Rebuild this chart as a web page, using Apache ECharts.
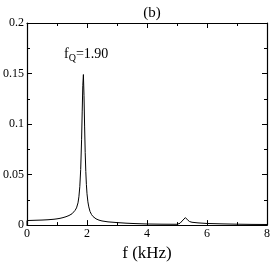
<!DOCTYPE html>
<html><head><meta charset="utf-8">
<script src="https://cdn.jsdelivr.net/npm/echarts@6/dist/echarts.min.js"></script>
<style>html,body{margin:0;padding:0;background:#fff}#c{width:273px;height:267px}</style>
</head><body><div id="c"></div>
<script>
const freq = [0,0.001,0.1,0.3,0.5,0.7,0.9,1.0,1.1,1.2,1.3,1.4,1.5,1.55,1.6,1.65,1.7,1.73,1.76,1.79,1.82,1.84,1.86,1.88,1.90,1.92,1.94,1.96,1.98,2.0,2.03,2.06,2.1,2.15,2.2,2.3,2.4,2.5,2.7,3.0,3.3,3.6,4.0,4.5,5.0,5.1,5.2,5.28,5.35,5.42,5.5,5.7,6.0,6.5,7.0,7.5,8.0];
const amp  = [0,0.0045,0.0046,0.0048,0.005,0.0053,0.0058,0.0062,0.0067,0.0074,0.0083,0.0095,0.0112,0.0125,0.0145,0.017,0.022,0.028,0.038,0.055,0.085,0.112,0.138,0.149,0.128,0.098,0.072,0.053,0.04,0.031,0.023,0.018,0.0135,0.0105,0.0085,0.0062,0.0049,0.0041,0.0032,0.0025,0.0019,0.0015,0.0011,0.0009,0.0008,0.0018,0.005,0.0074,0.0052,0.0035,0.0028,0.0022,0.0016,0.0012,0.0009,0.0007,0.0006];
const xTicks = [0,2,4,6,8];
const yTicks = [0,0.05,0.1,0.15,0.2];
const titleText = '(b)';
const xName = 'f (kHz)';

const font = 'Liberation Serif';
const chart = echarts.init(document.getElementById('c'));
const baseAxis = {
  axisLine:{show:true,onZero:false,lineStyle:{color:'#000',width:1.2}},
  axisTick:{show:true,inside:true,length:5,lineStyle:{color:'#000',width:1}},
  minorTick:{show:true,splitNumber:2,length:3,lineStyle:{color:'#000',width:1}},
  splitLine:{show:false}
};
chart.setOption({
  animation:false,
  title:{text:titleText,left:147,textAlign:'center',top:1,textStyle:{fontFamily:font,fontWeight:'normal',fontSize:15,color:'#000'}},
  grid:{left:24,right:4,top:23,bottom:32},
  xAxis:[
    Object.assign({},baseAxis,{type:'value',min:0,max:8,interval:2,position:'bottom',
      name:xName,nameLocation:'middle',nameGap:18,nameTextStyle:{fontFamily:font,fontSize:17,color:'#000'},
      axisLabel:{fontFamily:font,fontSize:12,color:'#000',margin:3,formatter:v=>xTicks.includes(v)?String(v):''}}),
    Object.assign({},baseAxis,{type:'value',min:0,max:8,interval:2,position:'top',axisLabel:{show:false}})
  ],
  yAxis:[
    Object.assign({},baseAxis,{type:'value',min:0,max:0.2,interval:0.05,position:'left',
      axisLabel:{fontFamily:font,fontSize:12,color:'#000',margin:3,formatter:v=>{const t=yTicks.find(a=>Math.abs(a-v)<1e-9);return t===undefined?'':String(t);}}}),
    Object.assign({},baseAxis,{type:'value',min:0,max:0.2,interval:0.05,position:'right',axisLabel:{show:false}})
  ],
  series:[{type:'line',data:freq.map((f,i)=>[f,amp[i]]),showSymbol:false,symbol:'none',
    lineStyle:{color:'#000',width:1},xAxisIndex:0,yAxisIndex:0}],
  graphic:[{type:'text',left:64,top:47,style:{
    text:'{f|f}{s|Q}{f|=1.90}',
    rich:{f:{fontFamily:font,fontSize:14,fill:'#000'},s:{fontFamily:font,fontSize:10,fill:'#000',padding:[9,0,0,0]}}
  }}]
});
</script></body></html>
